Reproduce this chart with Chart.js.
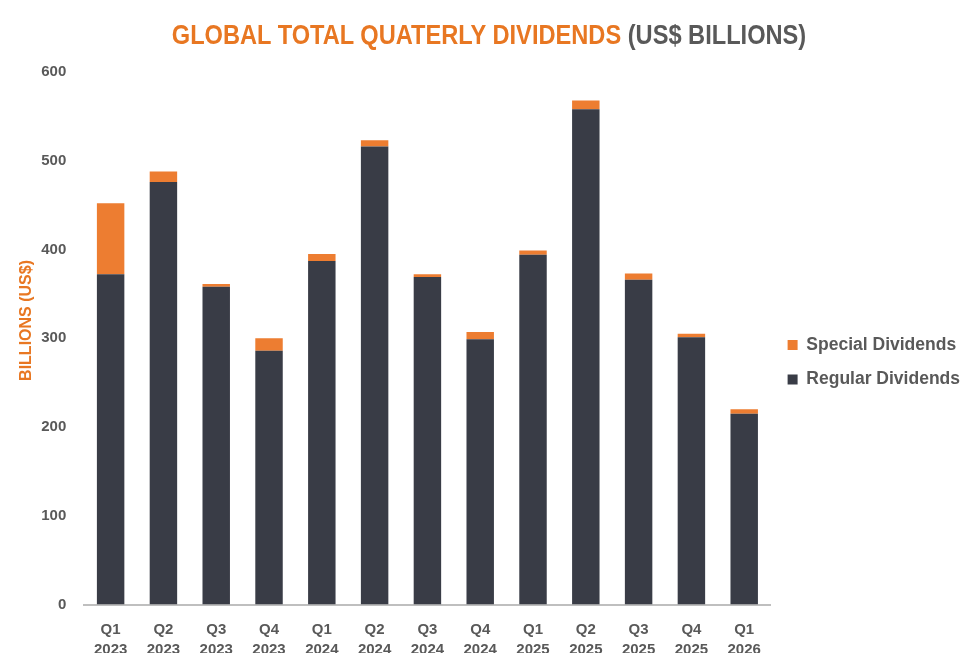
<!DOCTYPE html>
<html>
<head>
<meta charset="utf-8">
<script src="https://cdn.jsdelivr.net/npm/chart.js@4"></script>
<style>
  html, body { margin: 0; padding: 0; background: #fff; overflow: hidden; }
  #wrap { position: relative; width: 972px; height: 675px; }
  #title {
    position: absolute; top: 20px; left: 489px; white-space: nowrap;
    transform: translateX(-50%) scaleX(0.875);
    font-family: "Liberation Sans", Arial, sans-serif;
    font-weight: bold; font-size: 27px; color: #E87722;
  }
  #title span { color: #595959; }
</style>
</head>
<body>
<div id="wrap">
  <div id="title">GLOBAL TOTAL QUATERLY DIVIDENDS <span>(US$ BILLIONS)</span></div>
  <canvas id="myChart" width="972" height="675"></canvas>
</div>
<script>
const quarters = [["Q1", "2023"], ["Q2", "2023"], ["Q3", "2023"], ["Q4", "2023"],
                  ["Q1", "2024"], ["Q2", "2024"], ["Q3", "2024"], ["Q4", "2024"],
                  ["Q1", "2025"], ["Q2", "2025"], ["Q3", "2025"], ["Q4", "2025"],
                  ["Q1", "2026"]];
const regular = [372, 476, 358, 286, 387, 516, 369, 299, 394, 558, 366, 301, 215];
const special = [80, 12, 3, 14, 8, 7, 3, 8, 5, 10, 7, 4, 5];
const yTicks = [0, 100, 200, 300, 400, 500, 600];

const grey = "#595959";
const fontFamily = '"Liberation Sans", Arial, sans-serif';

new Chart("myChart", {
    type: "bar",
    data: {
        labels: quarters,
        datasets: [
            {
                label: "Regular Dividends",
                data: regular,
                backgroundColor: "#393C46",
                barPercentage: 0.52,
                categoryPercentage: 1
            },
            {
                label: "Special Dividends",
                data: special,
                backgroundColor: "#ED7D31",
                barPercentage: 0.52,
                categoryPercentage: 1
            }
        ]
    },
    options: {
        responsive: false,
        animation: false,
        layout: { padding: { top: 72, left: 17, right: 2, bottom: 0 } },
        plugins: {
            tooltip: { enabled: false },
            legend: {
                position: "right",
                fullSize: false,
                reverse: true,
                // empty title just pushes the two items down a little
                title: { display: true, text: " ", padding: { top: 18, bottom: 18 }, font: { size: 10 } },
                labels: {
                    color: grey,
                    boxWidth: 10,
                    boxHeight: 10,
                    padding: 17,
                    font: { family: fontFamily, size: 17.5, weight: "bold" }
                }
            }
        },
        scales: {
            x: {
                stacked: true,
                grid: { display: false, drawTicks: false },
                border: { color: "#BFBFBF", width: 2 },
                ticks: {
                    color: grey,
                    padding: 15,
                    maxRotation: 0,
                    font: { family: fontFamily, size: 15, weight: "bold", lineHeight: 1.35 }
                }
            },
            y: {
                stacked: true,
                min: 0,
                max: 600,
                afterBuildTicks: (axis) => { axis.ticks = yTicks.map(v => ({ value: v })); },
                grid: { display: false, drawTicks: false },
                border: { display: false },
                title: {
                    display: true,
                    text: "        BILLIONS (US$)",
                    color: "#E87722",
                    padding: { top: 0, bottom: -13 },
                    font: { family: fontFamily, size: 16, weight: "bold" }
                },
                ticks: {
                    color: grey,
                    padding: 18,
                    font: { family: fontFamily, size: 15, weight: "bold" }
                }
            }
        }
    }
});
</script>
</body>
</html>
